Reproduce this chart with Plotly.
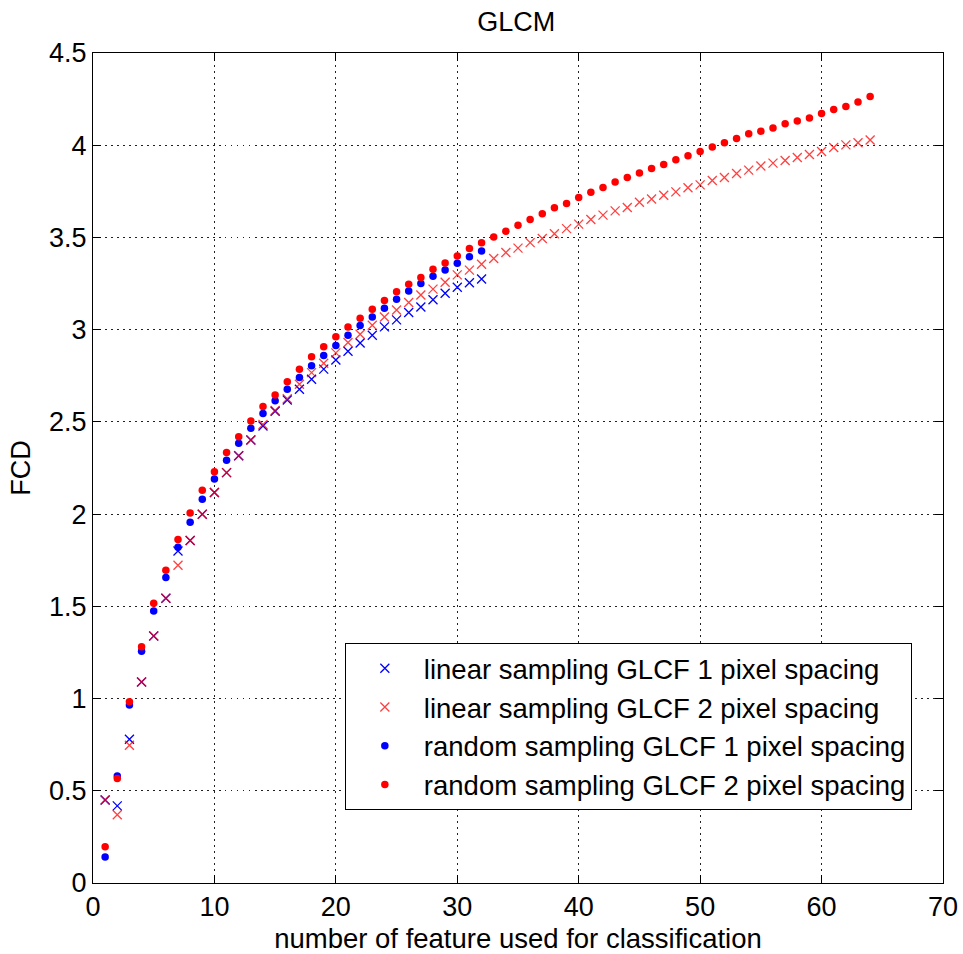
import plotly.graph_objects as go

# ---- data ----
x_32 = list(range(1, 33))
x_64 = list(range(1, 65))

linear_1px = [0.45, 0.418, 0.779, 1.09, 1.339, 1.544, 1.80, 1.857, 1.999, 2.117,
              2.225, 2.316, 2.402, 2.478, 2.558, 2.619, 2.677, 2.731, 2.786, 2.836,
              2.883, 2.928, 2.970, 3.015, 3.053, 3.093, 3.123, 3.162, 3.197, 3.230,
              3.254, 3.275]

linear_2px = [0.45, 0.37, 0.747, 1.09, 1.339, 1.544, 1.723, 1.857, 1.999, 2.117,
              2.225, 2.316, 2.402, 2.486, 2.562, 2.626, 2.704, 2.767, 2.818, 2.874,
              2.930, 2.975, 3.024, 3.069, 3.107, 3.147, 3.188, 3.220, 3.257, 3.297,
              3.323, 3.355, 3.386, 3.418, 3.442, 3.472, 3.494, 3.520, 3.548, 3.572,
              3.597, 3.621, 3.644, 3.662, 3.691, 3.708, 3.729, 3.747, 3.769, 3.785,
              3.809, 3.825, 3.847, 3.865, 3.887, 3.903, 3.917, 3.933, 3.950, 3.966,
              3.988, 4.002, 4.013, 4.028]

random_1px = [0.141, 0.58, 0.965, 1.256, 1.475, 1.656, 1.82, 1.956, 2.081, 2.19,
              2.292, 2.384, 2.466, 2.545, 2.614, 2.677, 2.741, 2.804, 2.860, 2.914,
              2.970, 3.022, 3.069, 3.116, 3.165, 3.210, 3.250, 3.290, 3.323, 3.360,
              3.395, 3.426]

random_2px = [0.197, 0.566, 0.983, 1.281, 1.517, 1.696, 1.862, 2.006, 2.13, 2.23,
              2.334, 2.419, 2.505, 2.583, 2.646, 2.717, 2.786, 2.853, 2.907, 2.961,
              3.015, 3.062, 3.111, 3.158, 3.205, 3.246, 3.283, 3.328, 3.362, 3.400,
              3.440, 3.471, 3.503, 3.534, 3.566, 3.597, 3.628, 3.661, 3.684, 3.717,
              3.745, 3.771, 3.801, 3.825, 3.849, 3.874, 3.896, 3.921, 3.943, 3.966,
              3.990, 4.013, 4.036, 4.062, 4.076, 4.093, 4.116, 4.132, 4.147, 4.172,
              4.194, 4.210, 4.235, 4.264]

series_names = ["linear sampling GLCF 1 pixel spacing",
                "linear sampling GLCF 2 pixel spacing",
                "random sampling GLCF 1 pixel spacing",
                "random sampling GLCF 2 pixel spacing"]

x_ticks = [0, 10, 20, 30, 40, 50, 60, 70]
y_ticks = [0, 0.5, 1, 1.5, 2, 2.5, 3, 3.5, 4, 4.5]
y_tick_text = ["0", "0.5", "1", "1.5", "2", "2.5", "3", "3.5", "4", "4.5"]

FONT = "Liberation Sans, Arial, sans-serif"

fig = go.Figure()
fig.add_trace(go.Scatter(x=x_32, y=linear_1px, mode="markers", name=series_names[0],
                         marker=dict(symbol="x-thin-open", size=9, color="#0000FF",
                                     line=dict(width=1.3, color="#0000FF"))))
fig.add_trace(go.Scatter(x=x_64, y=linear_2px, mode="markers", name=series_names[1],
                         marker=dict(symbol="x-thin-open", size=9, color="#FF0000",
                                     line=dict(width=1.3, color="#FF0000"), opacity=0.75)))
fig.add_trace(go.Scatter(x=x_32, y=random_1px, mode="markers", name=series_names[2],
                         marker=dict(symbol="circle", size=7.5, color="#0000FF",
                                     line=dict(width=0))))
fig.add_trace(go.Scatter(x=x_64, y=random_2px, mode="markers", name=series_names[3],
                         marker=dict(symbol="circle", size=7.5, color="#FF0000",
                                     line=dict(width=0))))

axis_common = dict(
    showgrid=True, gridcolor="#222222", griddash="1.5px,4.5px", gridwidth=1,
    showline=True, linecolor="black", linewidth=1, mirror="ticks",
    ticks="inside", ticklen=8, tickcolor="black", tickwidth=1,
    zeroline=False, automargin=False,
    tickfont=dict(family=FONT, size=27, color="black"),
)

fig.update_layout(
    width=963, height=954,
    margin=dict(l=93, r=20, t=53, b=71),
    paper_bgcolor="white", plot_bgcolor="white",
    title=dict(text="GLCM", x=0.536, xanchor="center", y=0.977, yanchor="middle",
               font=dict(family=FONT, size=27, color="black")),
    xaxis=dict(range=[0, 70], tickvals=x_ticks,
               title=dict(text="number of feature used for classification",
                          font=dict(family=FONT, size=27.5, color="black"), standoff=12),
               **axis_common),
    yaxis=dict(range=[0, 4.5], tickvals=y_ticks, ticktext=y_tick_text,
               title=dict(text="FCD", font=dict(family=FONT, size=27, color="black"),
                          standoff=10),
               **axis_common),
    legend=dict(x=0.2963, y=0.2893, xanchor="left", yanchor="top",
                bgcolor="white", bordercolor="black", borderwidth=1,
                font=dict(family=FONT, size=27.5, color="black"),
                itemwidth=68, tracegroupgap=0),
    showlegend=True,
)

fig.write_html("out.html")
